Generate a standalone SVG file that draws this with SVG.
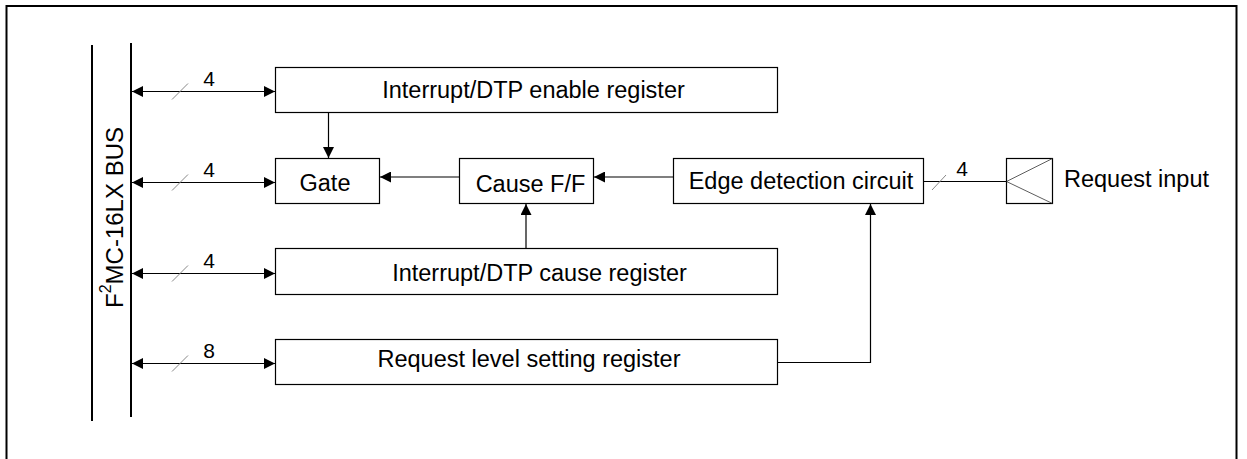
<svg xmlns="http://www.w3.org/2000/svg" width="1247" height="459" viewBox="0 0 1247 459">
<style>
text{font-family:"Liberation Sans",Arial,sans-serif;fill:#000}
.lbl{font-size:23.5px;text-anchor:middle}
.num{font-size:21px;text-anchor:middle}
.box{fill:#fff;stroke:#000;stroke-width:1.2}
.ln{fill:none;stroke:#000;stroke-width:1.2}
.sl{stroke:#888;stroke-width:1}
.bus{stroke:#000;stroke-width:2}
</style>
<defs>
<marker id="ah" markerUnits="userSpaceOnUse" markerWidth="11" markerHeight="11" viewBox="0 0 10 10" refX="10" refY="5" orient="auto-start-reverse">
<path d="M0,0 L10,5 L0,10 z" fill="#000"/>
</marker>
</defs>
<rect x="6.5" y="6" width="1230" height="480" fill="none" stroke="#000" stroke-width="2"/>
<g id="bus">
<line class="bus" x1="92" y1="45" x2="92" y2="421"/>
<line class="bus" x1="131" y1="43" x2="131" y2="417"/>
<text transform="translate(123,217.5) rotate(-90)" font-size="24" text-anchor="middle">F<tspan font-size="16" dy="-12">2</tspan><tspan dy="12">MC-16LX BUS</tspan></text>
</g>
<g id="enable-reg"><rect class="box" x="275.5" y="67.5" width="502" height="45"/><text class="lbl" x="533.5" y="97.5">Interrupt/DTP enable register</text></g>
<g id="gate"><rect class="box" x="275.5" y="158.5" width="104" height="45"/><text class="lbl" x="325" y="190.5">Gate</text></g>
<g id="cause-ff"><rect class="box" x="459.5" y="158.5" width="134" height="45"/><text class="lbl" x="530.5" y="191.5">Cause F/F</text></g>
<g id="edge"><rect class="box" x="673.5" y="158.5" width="250" height="45"/><text class="lbl" x="801" y="188.5">Edge detection circuit</text></g>
<g id="cause-reg"><rect class="box" x="275.5" y="248.5" width="502" height="46"/><text class="lbl" x="539.5" y="280.5">Interrupt/DTP cause register</text></g>
<g id="level-reg"><rect class="box" x="275.5" y="339.5" width="502" height="45"/><text class="lbl" x="529" y="366.5">Request level setting register</text></g>
<g id="request-input"><rect class="box" x="1006.5" y="158.5" width="46" height="45"/><path d="M1052.5,158.5 L1006.5,181.5 L1052.5,203.5" fill="none" stroke="#333" stroke-width="0.8"/><text x="1064" y="187" font-size="23.5">Request input</text></g>
<g id="connectors">
<line class="ln" x1="132" y1="91.5" x2="275" y2="91.5" marker-start="url(#ah)" marker-end="url(#ah)"/>
<line class="ln" x1="132" y1="182.5" x2="275" y2="182.5" marker-start="url(#ah)" marker-end="url(#ah)"/>
<line class="ln" x1="132" y1="273.5" x2="275" y2="273.5" marker-start="url(#ah)" marker-end="url(#ah)"/>
<line class="ln" x1="132" y1="363.5" x2="275" y2="363.5" marker-start="url(#ah)" marker-end="url(#ah)"/>
<line class="sl" x1="172" y1="99.5" x2="188" y2="83.5"/>
<line class="sl" x1="172" y1="190.5" x2="188" y2="174.5"/>
<line class="sl" x1="172" y1="281.5" x2="188" y2="265.5"/>
<line class="sl" x1="172" y1="371.5" x2="188" y2="355.5"/>
<text class="num" x="209" y="85.5">4</text>
<text class="num" x="209" y="176.5">4</text>
<text class="num" x="209" y="267.5">4</text>
<text class="num" x="209" y="357.5">8</text>
<line class="ln" x1="328.5" y1="112.5" x2="328.5" y2="158" marker-end="url(#ah)"/>
<line class="ln" x1="459" y1="177" x2="380" y2="177" marker-end="url(#ah)"/>
<line class="ln" x1="673" y1="177" x2="594" y2="177" marker-end="url(#ah)"/>
<line class="ln" x1="526" y1="248" x2="526" y2="204" marker-end="url(#ah)"/>
<polyline class="ln" points="777.5,362.5 870.5,362.5 870.5,204" marker-end="url(#ah)"/>
<line class="ln" x1="923.5" y1="181.5" x2="1006.5" y2="181.5"/>
<line class="sl" x1="932" y1="190" x2="946" y2="175"/>
<text class="num" x="962" y="175.5">4</text>
</g>
</svg>
